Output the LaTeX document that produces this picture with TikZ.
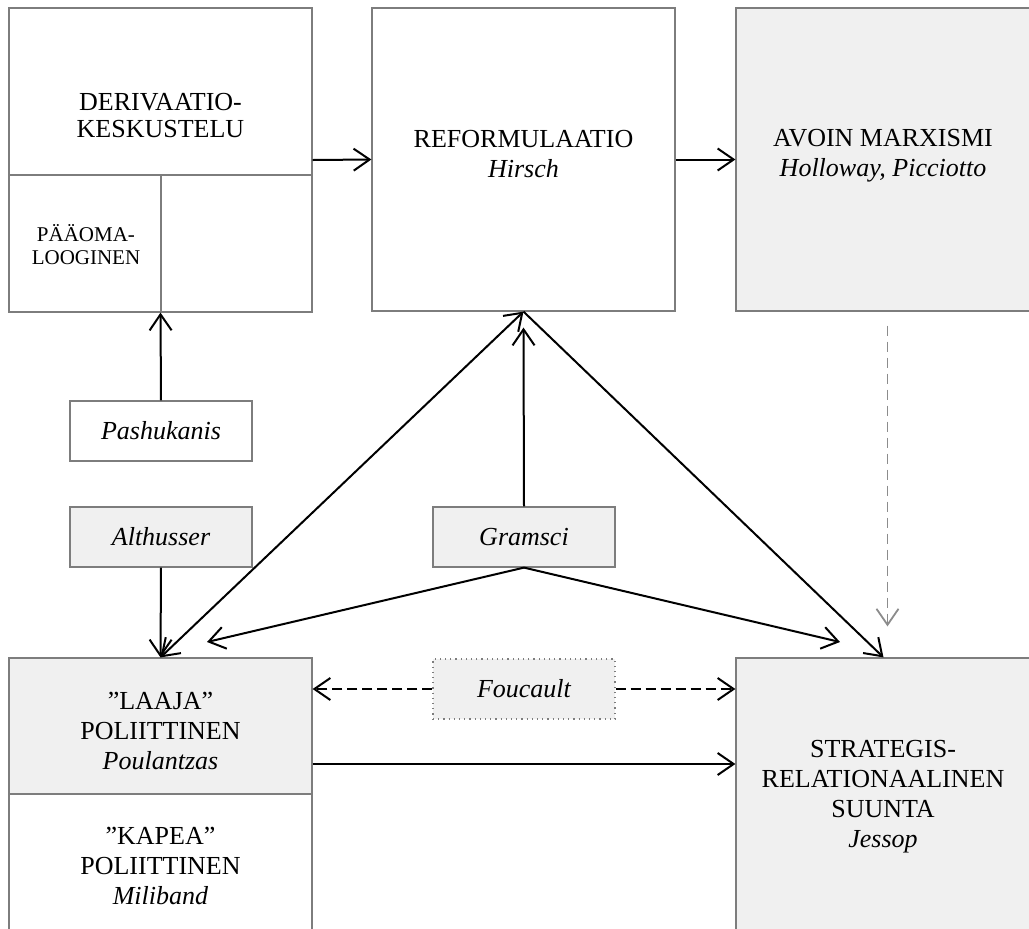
\documentclass[tikz,border=0pt]{standalone}
\usepackage{fontspec}
\setmainfont{Liberation Serif}
\usetikzlibrary{calc, positioning, arrows.meta}

\definecolor{boxgray}{RGB}{240,240,240}
\definecolor{edgegray}{RGB}{125,125,125}
\definecolor{dashgray}{RGB}{140,140,140}

\begin{document}
\begin{tikzpicture}[x=0.5pt, y=-0.5pt,
  >={Straight Barb[length=8pt, width=11pt]},
  box/.style={draw=edgegray, line width=0.6pt, inner sep=0pt},
  greybox/.style={box, fill=boxgray},
  namebox/.style={minimum width=91pt, minimum height=30pt, font=\fontsize{13}{15}\selectfont\itshape},
  txt/.style={align=center, inner sep=0pt, font=\fontsize{13}{15}\selectfont},
  smalltxt/.style={align=center, inner sep=0pt, font=\fontsize{10.5}{11.5}\selectfont},
  arr/.style={->, line width=1pt},
  dasharr/.style={->, line width=1pt, dash pattern=on 5pt off 2.5pt}]

  \useasboundingbox (0,0) rectangle (1029,928);
  \clip (0,0) rectangle (1029,928);

  % top row
  \node[box, minimum width=151.5pt, minimum height=152pt] (deriv) at (160.5,160) {};
  \node[box, minimum width=151.5pt, minimum height=151.5pt] (reform) at (523.5,159.5) {};
  \node[greybox, minimum width=147.5pt, minimum height=151.5pt] (avoin) at (883.5,159.5) {};
  \draw[edgegray, line width=0.6pt] (9,175) -- (312,175);
  \draw[edgegray, line width=0.6pt] (161,175) -- (deriv.south -| 161,0);

  \node[txt] (derivtxt) at (160.5,116) {DERIVAATIO-\\[-1.5pt]KESKUSTELU};
  \node[smalltxt] (pmtxt) at (86,245) {PÄÄOMA-\\LOOGINEN};
  \node[txt] (reformtxt) at (523.5,154) {REFORMULAATIO\\\textit{Hirsch}};
  \node[txt] (avointxt) at (883,156) {AVOIN MARXISMI\\\textit{Holloway, Picciotto}};

  % names in the middle
  \node[box, namebox] (pash) at (161,431) {Pashukanis};
  \node[greybox, namebox] (alth) at (161,537) {Althusser};
  \node[greybox, namebox] (gram) at (524,537) {Gramsci};
  \node[box, namebox, fill=boxgray, dotted, line width=0.7pt] (fouc) at (524,689) {Foucault};

  % bottom row
  \node[greybox, minimum width=151.5pt, minimum height=68pt] (laaja) at (160.5,726) {};
  \node[box, minimum width=151.5pt, minimum height=70.5pt] (kapea) at (160.5,864.5) {};
  \node[greybox, minimum width=147.5pt, minimum height=138.5pt] (strat) at (883.5,796.5) {};

  \node[txt] (laajatxt) at (160.5,731) {”LAAJA”\\POLIITTINEN\\\textit{Poulantzas}};
  \node[txt] (kapeatxt) at (160.5,866) {”KAPEA”\\POLIITTINEN\\\textit{Miliband}};
  \node[txt] (strattxt) at (883,797) {STRATEGIS-\\RELATIONAALINEN\\SUUNTA\\\textit{Jessop}};

  \coordinate (gramL) at (207,642);
  \coordinate (gramR) at (840,642);

  % connectors
  \draw[arr] (deriv.east) -- (reform.west);
  \draw[arr] (reform.east) -- (avoin.west);
  \draw[arr] (pash.north) -- (deriv.south);
  \draw[arr] (alth.south) -- (laaja.north);
  \draw[arr, <->] (laaja.north) -- (reform.south);
  \draw[arr] (reform.south) -- (strat.north);
  \draw[arr] (gram.north) -- ([yshift=-8pt]reform.south);
  \draw[arr] (gram.south) -- (gramL);
  \draw[arr] (gram.south) -- (gramR);
  \draw[dasharr] (fouc.west) -- (fouc.west -| laaja.east);
  \draw[dasharr] (fouc.east) -- (fouc.east -| strat.west);
  \draw[arr] ([yshift=-19pt]laaja.east) -- ([yshift=-19pt]laaja.east -| strat.west);
  \draw[->, dashgray, line width=0.9pt, dash pattern=on 5pt off 3pt]
    ([xshift=2pt, yshift=-7pt]avoin.south) -- ([xshift=2pt, yshift=15.5pt]strat.north);
\end{tikzpicture}
\end{document}
